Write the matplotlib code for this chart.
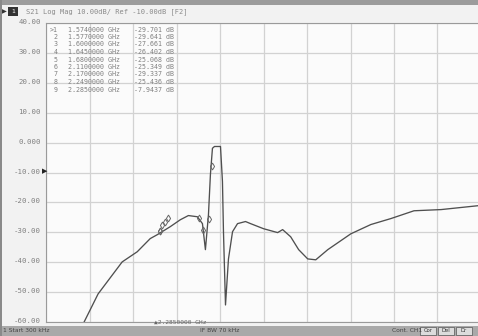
import numpy as np
import matplotlib
matplotlib.use('Agg')
import matplotlib.pyplot as plt
from matplotlib.patches import Rectangle

# S21 trace (GHz, dB)
freq = [0.526, 0.719, 1.051, 1.259, 1.438, 1.535, 1.715, 1.853, 1.964, 2.088,
        2.158, 2.199, 2.241, 2.268, 2.296, 2.324, 2.407, 2.434, 2.448, 2.476,
        2.517, 2.573, 2.642, 2.752, 2.822, 3.001, 3.195, 3.264, 3.375, 3.485,
        3.610, 3.721, 3.887, 4.205, 4.481, 4.758, 5.076, 5.450, 5.961, 6.0]
s21 = [-60.0, -50.6, -39.9, -36.5, -32.1, -30.8, -28.1, -25.8, -24.4, -24.8,
       -27.1, -35.8, -24.1, -10.7, -1.9, -1.3, -1.3, -13.0, -29.8, -54.3,
       -38.9, -29.8, -27.1, -26.4, -27.1, -28.8, -30.1, -29.1, -31.5, -35.8,
       -38.9, -39.2, -35.8, -30.5, -27.4, -25.4, -22.8, -22.4, -21.1, -21.0]

# marker table
mk_num = [1, 2, 3, 4, 5, 6, 7, 8, 9]
mk_freq = [1.5740000, 1.5770000, 1.6000000, 1.6450000, 1.6800000,
           2.1100000, 2.1700000, 2.2490000, 2.2850000]
mk_val = [-29.701, -29.641, -27.661, -26.402, -25.068,
          -25.349, -29.337, -25.436, -7.9437]

ylabels = ['40.00', '30.00', '20.00', '10.00', '0.000', '-10.00',
           '-20.00', '-30.00', '-40.00', '-50.00', '-60.00']

W, H = 478, 336
fig = plt.figure(figsize=(W / 100, H / 100), dpi=100)
fig.patch.set_facecolor('#f2f2f2')

def fx(px):
    return px / W

def fy(py):
    return 1 - py / H

ax = fig.add_axes([fx(46), fy(322), (481 - 46) / W, (322 - 23) / H])
ax.set_facecolor('#fbfbfb')
ax.set_xlim(0.0003, 6.0)
ax.set_ylim(-60, 40)
ax.set_xticks(np.linspace(0.0003, 6.0, 11))
ax.set_yticks(np.arange(40, -61, -10))
ax.grid(True, color='#d2d2d2', lw=0.9)
ax.tick_params(length=0, labelbottom=False, labelleft=False)
for s in ax.spines.values():
    s.set_color('#9a9a9a')
    s.set_linewidth(0.8)

ax.plot(freq, s21, color='#4f4f4f', lw=0.95)
ax.plot(mk_freq, mk_val, ls='none', marker='d', ms=3.5, mfc='none',
        mec='#666666', mew=0.7)

# y labels
for lab, v in zip(ylabels, np.arange(40, -61, -10)):
    fig.text(fx(41), fy(22 + (40 - v) * 2.99), lab, ha='right', va='center',
             fontsize=5.3, color='#808080', family='DejaVu Sans Mono')

# reference arrow at -10 dB
fig.text(fx(42), fy(171), '\u25B6', ha='left', va='center', fontsize=5, color='#222222')

# title bar
fig.add_artist(Rectangle((0, fy(5)), 1, 5 / H, transform=fig.transFigure,
                         color='#9c9c9c', lw=0))
fig.add_artist(Rectangle((fx(8), fy(16)), 10 / W, 9 / H, transform=fig.transFigure,
                         color='#333333', lw=0))
fig.text(fx(2), fy(11.5), '\u25B6', fontsize=4.5, color='#333333', va='center')
fig.text(fx(13), fy(11.5), '1', fontsize=4.5, color='white', va='center', ha='center')
fig.text(fx(26), fy(11.5), 'S21 Log Mag 10.00dB/ Ref -10.00dB [F2]', fontsize=5,
         color='#8a8a8a', va='center', family='DejaVu Sans Mono')

# marker table
for i, (n, f, v) in enumerate(zip(mk_num, mk_freq, mk_val)):
    yy = fy(29.5 + 7.5 * i)
    pre = '>' if n == 1 else ' '
    fig.text(fx(50), yy, pre + str(n), fontsize=4.8, color='#808080', va='center',
             family='DejaVu Sans Mono')
    fig.text(fx(68), yy, '%.7f GHz' % f, fontsize=4.8, color='#808080', va='center',
             family='DejaVu Sans Mono')
    fig.text(fx(134), yy, ('%.5g' % v) + ' dB', fontsize=4.8, color='#808080',
             va='center', family='DejaVu Sans Mono')

# active marker readout
fig.text(fx(154), fy(322), '\u25B22.2850000 GHz', fontsize=4.5, color='#666666',
         va='center', family='DejaVu Sans Mono')

# status bar
fig.add_artist(Rectangle((0, 0), 1, 10 / H, transform=fig.transFigure,
                         color='#a9a9a9', lw=0))
fig.text(fx(3), fy(331), '1 Start 300 kHz', fontsize=4.3, color='#444444', va='center')
fig.text(fx(200), fy(331), 'IF BW 70 kHz', fontsize=4.3, color='#444444', va='center')
fig.text(fx(392), fy(331), 'Cont. CH1', fontsize=4.3, color='#444444', va='center')
for i, lab in enumerate(['Cor', 'Del', 'Dr']):
    x0 = 420 + 18 * i
    fig.add_artist(Rectangle((fx(x0), fy(335)), 16 / W, 8 / H, transform=fig.transFigure,
                             fc='#dcdcdc', ec='#555555', lw=0.5))
    fig.text(fx(x0 + 8), fy(331), lab, fontsize=3.8, color='#333333', va='center', ha='center')

# left frame line
fig.add_artist(Rectangle((0, 0), 2 / W, 1, transform=fig.transFigure, color='#8a8a8a', lw=0))

fig.savefig('out.png', dpi=100, facecolor=fig.get_facecolor())
